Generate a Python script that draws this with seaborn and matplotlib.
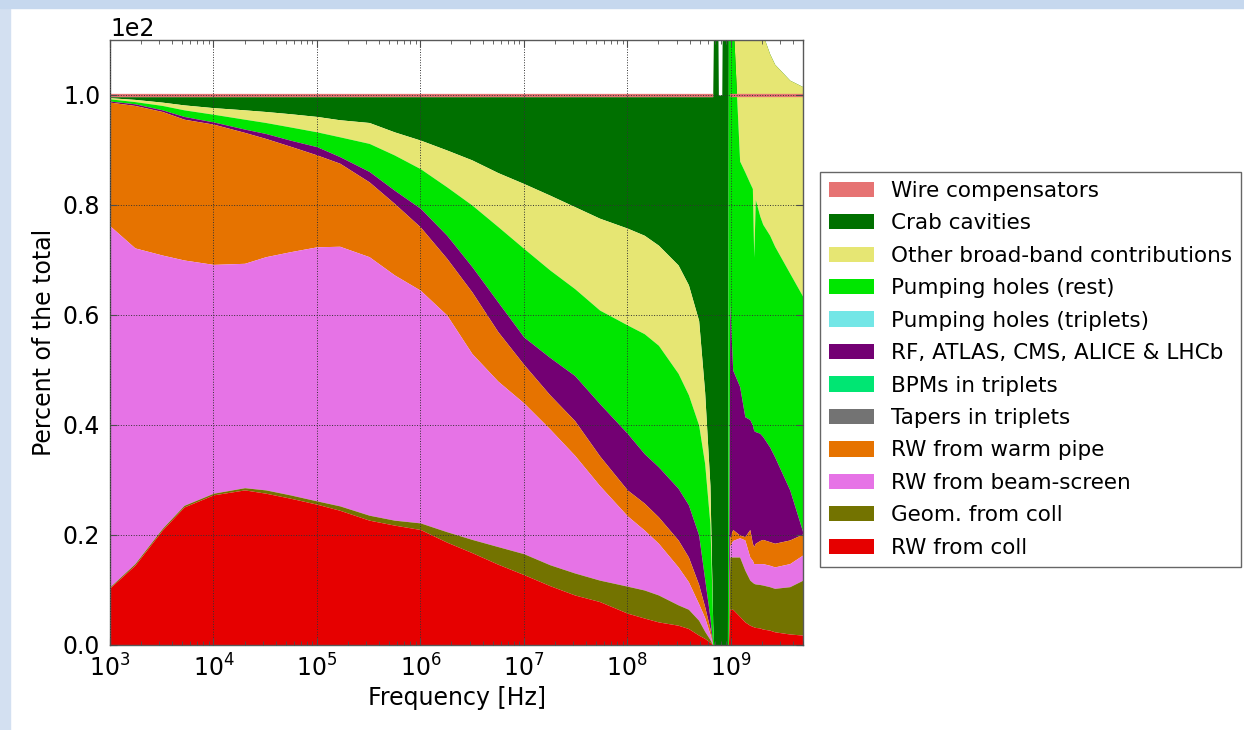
import matplotlib
matplotlib.use("Agg")
import matplotlib.pyplot as plt
import seaborn as sns
from matplotlib.ticker import MultipleLocator, ScalarFormatter, LogLocator, NullFormatter
from matplotlib.patches import Rectangle, Patch

sns.set_style("ticks")
plt.rcParams["font.family"] = ["DejaVu Sans"]
plt.rcParams["mathtext.fontset"] = "dejavusans"
for key in ["text.color", "axes.labelcolor", "xtick.color", "ytick.color"]:
    plt.rcParams[key] = "black"

# frequency points [Hz]
freq = [1e3, 1.74e3, 3.2e3, 5.2e3, 1e4, 2e4, 3.2e4, 5.5e4, 1e5, 1.66e5,
        3.2e5, 5.6e5, 1e6, 1.8e6, 3.15e6, 5.6e6, 1e7, 1.78e7, 3.1e7, 5.4e7,
        1e8, 1.46e8, 2e8, 3.1e8, 3.9e8, 4.9e8, 5.6e8, 6.3e8, 6.7e8, 6.85e8,
        7.5e8, 7.6e8, 8.2e8, 8.3e8, 9.3e8, 9.5e8, 9.8e8, 1.045e9, 1.22e9,
        1.37e9, 1.53e9, 1.62e9, 1.67e9, 1.73e9, 1.91e9, 2.04e9, 2.38e9,
        2.66e9, 3.72e9, 5e9]

# upper edge of each band, percent of the total (stacked from the bottom)
rw_coll = [10.4, 14.5, 20.9, 25.1, 27.3, 28.2, 27.6, 26.7, 25.6, 24.5,
           22.7, 21.8, 21.0, 18.7, 16.8, 14.7, 12.8, 10.8, 9.1, 7.9,
           5.8, 4.9, 4.2, 3.6, 3.0, 1.8, 1.2, 0.5, 0, 0,
           0, 0, 0, 0, 0, 0, 6.5, 6.5, 5.2,
           4.2, 3.6, 3.4, 3.3, 3.2, 3.1, 2.9, 2.7,
           2.4, 2.0, 1.8]
geom_coll = [10.6, 14.8, 21.2, 25.4, 27.6, 28.6, 28.2, 27.3, 26.2, 25.3,
             23.6, 22.7, 22.2, 20.6, 19.2, 17.9, 16.6, 14.6, 13.1, 11.8,
             10.7, 10.0, 9.1, 7.3, 6.5, 4.5, 2.5, 1.0, 0, 0,
             0, 0, 0, 0, 0, 0, 16, 16, 16,
             13.6, 11.8, 11.4, 11.2, 11.1, 11.0, 10.9, 10.6,
             10.3, 10.6, 11.8]
rw_beam_screen = [76.2, 72.2, 70.9, 70.0, 69.2, 69.4, 70.6, 71.5, 72.4, 72.5,
                  70.6, 67.3, 64.5, 60.0, 53.0, 48.0, 44.0, 39.3, 34.5, 29.0,
                  23.5, 20.9, 18.5, 14.2, 11.5, 7.5, 5.0, 2.0, 0, 0,
                  0, 0, 0, 0, 0, 0, 18, 19, 19.5,
                  19.1, 16, 15.4, 14.8, 14.8, 14.8, 14.8, 14.5,
                  14.2, 14.8, 16.4]
rw_warm_pipe = [98.7, 98.1, 97.0, 95.6, 94.7, 93.2, 92.1, 90.7, 89.1, 87.6,
                84.2, 80.3, 76.0, 70.3, 64.2, 57.0, 51.0, 45.5, 40.8, 34.4,
                28.2, 25.8, 23.3, 19.1, 16.0, 11.0, 7.0, 3.0, 0, 0,
                0, 0, 0, 0, 0, 0, 19.5, 21, 20,
                19.7, 21, 18.5, 17.9, 18.5, 19.0, 19.2, 18.8,
                18.5, 19.1, 20.2]
rf_experiments = [98.9, 98.4, 97.3, 96.1, 95.1, 93.8, 93.0, 91.8, 90.6, 88.8,
                  86.1, 82.7, 79.4, 74.5, 68.8, 62.4, 56.0, 52.3, 49.0, 43.9,
                  38.5, 34.8, 32.4, 28.5, 25.5, 20.0, 12.0, 5.0, 0, 0,
                  0, 0, 0, 0, 0, 0, 62, 50, 47,
                  41.5, 41, 40, 39, 38.8, 38.5, 37.9, 36,
                  34.2, 28.2, 20.4]
pumping_rest = [99.3, 98.8, 98.1, 97.3, 96.5, 95.6, 95.0, 94.2, 93.3, 92.4,
                91.2, 89.1, 86.6, 83.3, 80.0, 76.1, 72.1, 68.2, 64.8, 60.9,
                58.2, 56.6, 54.5, 49.4, 45.5, 40.0, 33.0, 22.0, 4, 0,
                0, 0, 0, 0, 0, 115, 115, 115, 88,
                86, 84, 83, 70.5, 81, 78, 76.5, 74.5,
                72.5, 67.6, 63.3]
other_broadband = [99.5, 99.2, 98.7, 98.2, 97.7, 97.3, 97.0, 96.6, 96.1, 95.5,
                   95.0, 93.3, 91.8, 90.0, 88.2, 85.9, 83.9, 81.8, 79.7, 77.6,
                   75.8, 74.5, 72.7, 69.1, 65.5, 59.0, 46.0, 29.0, 4, 0,
                   0, 0, 0, 0, 0, 115, 115, 115, 115,
                   115, 115, 115, 115, 115, 115, 111, 107.5,
                   105.6, 102.7, 101.5]
crab_cavities = [99.7] * 29 + [115, 115, 100, 100, 115, 115, 115] + [99.7] * 14
wire_compensators = [100.3] * 29 + [115, 115, 100, 100, 115, 115, 115] + [100.3] * 14

labels = ["RW from coll", "Geom. from coll", "RW from beam-screen",
          "RW from warm pipe", "Tapers in triplets", "BPMs in triplets",
          "RF, ATLAS, CMS, ALICE & LHCb", "Pumping holes (triplets)",
          "Pumping holes (rest)", "Other broad-band contributions",
          "Crab cavities", "Wire compensators"]
colors = ["#e60000", "#737300", "#e673e6", "#e67300", "#737373", "#00e673",
          "#730073", "#73e6e6", "#00e600", "#e6e673", "#007000", "#e67373"]
# tapers, BPMs and triplet pumping holes are too small to show
edges = [rw_coll, geom_coll, rw_beam_screen, rw_warm_pipe, rw_warm_pipe,
         rw_warm_pipe, rf_experiments, rf_experiments, pumping_rest,
         other_broadband, crab_cavities, wire_compensators]

fig = plt.figure(figsize=(12.44, 7.30), dpi=100)
fig.patches.append(Rectangle((0, 0), 10 / 1244, 1, transform=fig.transFigure,
                             color="#d3e0f1", zorder=-1))
fig.patches.append(Rectangle((0, 722 / 730), 1, 8 / 730, transform=fig.transFigure,
                             color="#c6d8ee", zorder=-1))
ax = fig.add_axes([110 / 1244, 85 / 730, 693 / 1244, 605 / 730])
ax.set_xscale("log")

zero = [0] * len(freq)
# upper bands first, lower bands painted over them; the wire band last
for i in range(10, -1, -1):
    lower = edges[i - 1] if i > 0 else zero
    ax.fill_between(freq, lower, edges[i], color=colors[i], lw=0)
ax.fill_between(freq, crab_cavities, wire_compensators, color=colors[11], lw=0)

ax.set_xlim(1e3, 5e9)
ax.set_ylim(0, 110)
ax.yaxis.set_major_locator(MultipleLocator(20))
fmt = ScalarFormatter()
fmt.set_powerlimits((0, 0))
ax.yaxis.set_major_formatter(fmt)
ax.yaxis.get_offset_text().set_fontsize(17)
ax.xaxis.set_major_locator(LogLocator(base=10, numticks=12))
ax.xaxis.set_minor_locator(LogLocator(base=10, subs=range(2, 10), numticks=12))
ax.xaxis.set_minor_formatter(NullFormatter())

ax.tick_params(which="both", direction="in", top=True, right=True,
               labelsize=17, pad=7, color="0.3")
ax.tick_params(which="major", length=5)
ax.tick_params(which="minor", length=3)
ax.set_axisbelow(False)
ax.grid(True, which="major", ls=":", color="0.2", lw=0.7)
for s in ax.spines.values():
    s.set_color("0.35")
    s.set_linewidth(1)

ax.set_xlabel("Frequency [Hz]", fontsize=17, labelpad=3)
ax.set_ylabel("Percent of the total", fontsize=17, labelpad=5)

handles = [Patch(facecolor=c, edgecolor="none") for c in colors[::-1]]
fig.legend(handles, labels[::-1], loc="upper left",
           bbox_to_anchor=(820 / 1244, 1 - 172 / 730), fontsize=15.5,
           frameon=True, fancybox=False, edgecolor="0.4", framealpha=1,
           borderpad=0.4, labelspacing=0.58, handlelength=2.1,
           handletextpad=0.8, borderaxespad=0)

fig.savefig("out.png", dpi=100, facecolor="white")
